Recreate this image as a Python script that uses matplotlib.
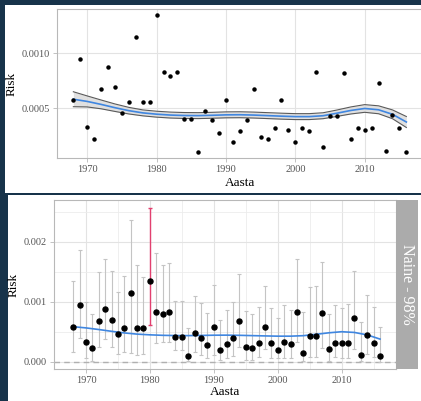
import matplotlib
matplotlib.use('Agg')
import matplotlib.pyplot as plt
from matplotlib.patches import Rectangle
import numpy as np

plt.rcParams['font.family'] = ['Liberation Serif', 'DejaVu Serif']

# andmed
years = list(range(1968, 2017))
risk = [0.000578, 0.000944, 0.000333, 0.000222, 0.000678, 0.000872, 0.000694, 0.000456,
        0.000556, 0.00115, 0.000556, 0.000556, 0.001344, 0.000833, 0.000789, 0.000833,
        0.000406, 0.000406, 0.0001, 0.000472, 0.000389, 0.000278, 0.000578, 0.000194,
        0.000289, 0.000389, 0.000678, 0.000239, 0.000222, 0.000317, 0.000578, 0.000306,
        0.000194, 0.000322, 0.000294, 0.000828, 0.00015, 0.000433, 0.000428, 0.000817,
        0.000217, 0.000317, 0.000306, 0.000317, 0.000733, 0.000111, 0.000439, 0.000317,
        0.0001]
lower = [0.000167, 0.0004, 0.000067, 0.000017, 0.00025, 0.000372, 0.000244, 0.000122,
         0.000156, 0.00015, 0.000111, 0.000122, 0.000611, 0.000317, 0.000333, 0.000333,
         0.000194, 0.000194, 0.00001, 0.000156, 0.000111, 0.000056, 0.000111, 0.000028,
         0.000056, 0.0001, 0.000239, 0.000028, 0.000022, 0.000072, 0.000206, 0.000056,
         0.000056, 0.000067, 0.000056, 0.000333, 0.000017, 0.000083, 0.000083, 0.000233,
         0.000017, 0.000083, 0.000056, 0.000067, 0.000211, 0.00001, 0.000128, 0.000072,
         0.0]
upper = [0.001344, 0.001856, 0.001, 0.000789, 0.00149, 0.00172, 0.00152, 0.00117,
         0.00143, 0.00237, 0.00162, 0.00142, 0.002567, 0.00182, 0.00162, 0.00164,
         0.00102, 0.00101, 0.000556, 0.0011, 0.00098, 0.000806, 0.00128, 0.000689,
         0.000856, 0.001, 0.001467, 0.000839, 0.000794, 0.000917, 0.00126, 0.00089,
         0.000722, 0.000944, 0.000856, 0.00172, 0.000822, 0.00125, 0.00126, 0.00167,
         0.000789, 0.00094, 0.00089, 0.000956, 0.001506, 0.000667, 0.00112, 0.000917,
         0.000583]
highlight_year = 1980

smooth_years = [1968, 1970, 1972, 1974, 1976, 1978, 1980, 1982, 1984, 1986, 1988, 1990, 1992,
                1994, 1996, 1998, 2000, 2002, 2004, 2006, 2008, 2010, 2012, 2014, 2016]
smooth_fit = [0.000582, 0.000562, 0.000535, 0.000505, 0.000478, 0.000458, 0.000446, 0.000438,
              0.000434, 0.000433, 0.000436, 0.00044, 0.000441, 0.000438, 0.000433, 0.000428,
              0.000424, 0.000424, 0.000432, 0.000455, 0.00048, 0.000498, 0.000486, 0.000445,
              0.000375]
smooth_se = [0.000068, 0.00005, 0.00004, 0.000034, 0.00003, 0.000027, 0.000027, 0.000027,
             0.000027, 0.000027, 0.000027, 0.000027, 0.000027, 0.000027, 0.000027, 0.000027,
             0.000027, 0.000027, 0.000027, 0.000029, 0.000032, 0.000035, 0.000036, 0.00004,
             0.00005]

strip_label = 'Naine - 98%'

BG = '#17334a'
GRID = '#e3e3e3'
BORDER = '#b8b8b8'
TICKTXT = '#555555'
BLUE = '#3f86e0'

W, H = 421, 401
fig = plt.figure(figsize=(W / 100, H / 100), dpi=100)
fig.patch.set_facecolor(BG)


def px_rect(x0, y0, x1, y1):
    return [x0 / W, 1 - y1 / H, (x1 - x0) / W, (y1 - y0) / H]


# valged taustad (kaks ekraanipilti)
for (x0, y0, x1, y1) in [(5, 5, 421, 193), (7.5, 195, 421, 401)]:
    r = px_rect(x0, y0, x1, y1)
    fig.patches.append(Rectangle((r[0], r[1]), r[2], r[3], transform=fig.transFigure,
                                 facecolor='white', edgecolor='none', zorder=-5))


def style_axes(ax):
    ax.set_facecolor('white')
    for s in ax.spines.values():
        s.set_color(BORDER)
        s.set_linewidth(0.8)
    ax.tick_params(axis='both', colors=BORDER, labelcolor=TICKTXT, labelsize=7.5,
                   length=3, width=0.6, pad=2)
    ax.set_axisbelow(True)
    ax.grid(True, which='major', color=GRID, linewidth=0.8)


# ülemine paneel
ax1 = fig.add_axes(px_rect(56.7, 8.7, 423, 158.3))
style_axes(ax1)
ax1.set_xlim(1965.6, 2018.4)
ax1.set_ylim(0.000045, 0.001405)
ax1.set_xticks([1970, 1980, 1990, 2000, 2010])
ax1.set_yticks([0.0005, 0.0010])
ax1.set_yticklabels(['0.0005', '0.0010'])
fit = np.array(smooth_fit)
se = np.array(smooth_se)
ax1.fill_between(smooth_years, fit - se, fit + se, color='#d9d9d9', alpha=0.8, lw=0, zorder=2)
ax1.plot(smooth_years, fit - se, color='#5a5a5a', lw=0.8, zorder=3)
ax1.plot(smooth_years, fit + se, color='#5a5a5a', lw=0.8, zorder=3)
ax1.plot(smooth_years, fit, color=BLUE, lw=1.2, zorder=4)
ax1.plot(years, risk, 'o', color='black', ms=2.2, zorder=5)
ax1.set_ylabel('Risk', fontsize=9.5, labelpad=3)
ax1.set_xlabel('Aasta', fontsize=9.5, labelpad=2)

# alumine paneel
ax2 = fig.add_axes(px_rect(54, 200, 396, 369))
style_axes(ax2)
ax2.set_xlim(1965.5, 2018.5)
ax2.set_ylim(-0.000125, 0.0027)
ax2.set_xticks([1970, 1980, 1990, 2000, 2010])
ax2.set_xticks([1965, 1975, 1985, 1995, 2005, 2015], minor=True)
ax2.set_yticks([0.0, 0.001, 0.002])
ax2.set_yticklabels(['0.000', '0.001', '0.002'])
ax2.set_yticks([0.0005, 0.0015, 0.0025], minor=True)
ax2.tick_params(which='minor', length=0)
ax2.grid(True, which='minor', color='#ececec', linewidth=0.6)
ax2.axhline(0, color='#b0b0b0', lw=1.0, ls=(0, (4, 3)), zorder=2)
yr = np.array(years)
rk = np.array(risk)
lo = np.array(lower)
hi = np.array(upper)
hl = yr == highlight_year
ax2.errorbar(yr[~hl], rk[~hl], yerr=[rk[~hl] - lo[~hl], hi[~hl] - rk[~hl]], fmt='none',
             ecolor='#c4c4c4', elinewidth=0.8, capsize=1.6, capthick=0.8, zorder=3)
ax2.errorbar(yr[hl], rk[hl], yerr=[rk[hl] - lo[hl], hi[hl] - rk[hl]], fmt='none',
             ecolor='#e2406f', elinewidth=1.0, capsize=1.6, capthick=1.0, zorder=3)
ax2.plot(smooth_years, smooth_fit, color=BLUE, lw=1.2, zorder=4)
ax2.plot(years, risk, 'o', color='black', ms=3.6, zorder=5)
ax2.set_ylabel('Risk', fontsize=9.5, labelpad=3)
ax2.set_xlabel('Aasta', fontsize=9.5, labelpad=1)

# facet-riba
r = px_rect(396, 200, 418, 369)
fig.patches.append(Rectangle((r[0], r[1]), r[2], r[3], transform=fig.transFigure,
                             facecolor='#ababab', edgecolor='none', zorder=1))
fig.text(r[0] + r[2] / 2, r[1] + r[3] / 2, strip_label, rotation=-90, color='white',
         fontsize=11.5, ha='center', va='center')

fig.savefig('out.png', dpi=100, facecolor=BG)
